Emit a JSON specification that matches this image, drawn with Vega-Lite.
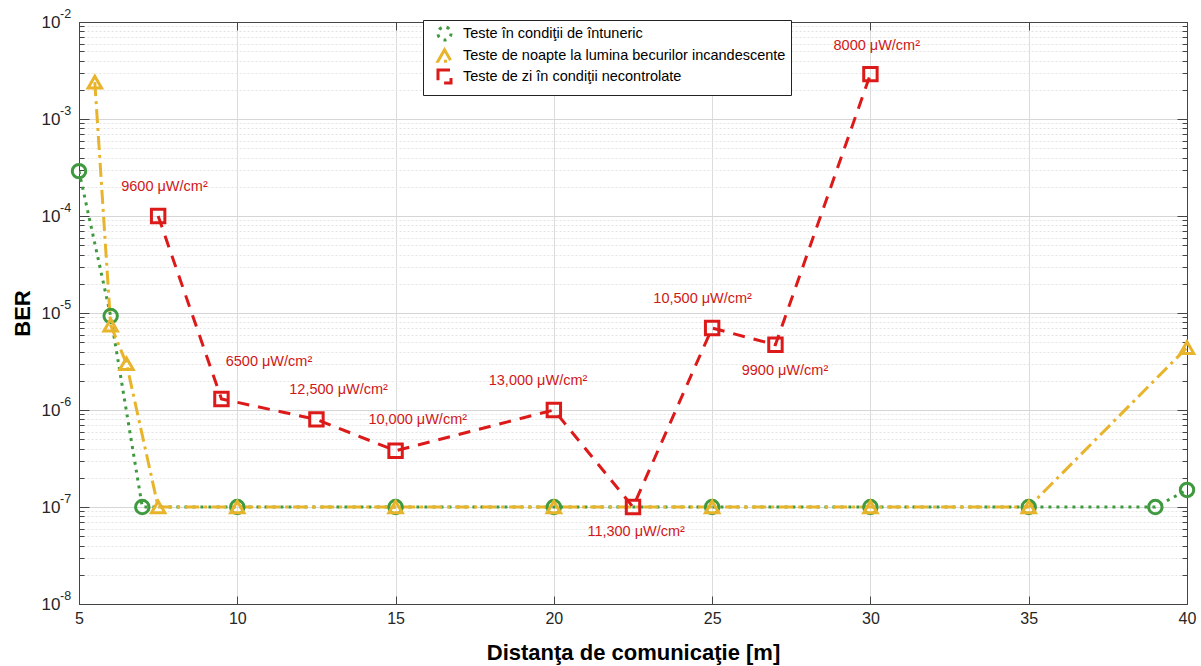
{
  "$schema": "https://vega.github.io/schema/vega-lite/v6.json",
  "width": 1108,
  "height": 582,
  "autosize": {"type": "none"},
  "padding": {"left": 79, "top": 22, "right": 14, "bottom": 62},
  "background": "white",
  "config": {
    "view": {"stroke": "#444444", "strokeWidth": 1},
    "font": "Liberation Sans",
    "legend": {
      "orient": "none", "legendX": 344, "legendY": -2,
      "direction": "vertical",
      "strokeColor": "#222222", "fillColor": "#ffffff", "padding": 5,
      "labelFont": "Liberation Sans", "labelFontSize": 14.5, "labelColor": "#000000",
      "symbolStrokeWidth": 3, "symbolSize": 170, "rowPadding": -6, "labelLimit": 400,
      "symbolOffset": 8, "labelOffset": 10
    }
  },
  "resolve": {"axis": {"x": "independent", "y": "independent"}},
  "datasets": {
    "series": [
      {"s": "Teste în condiţii de întuneric", "x": 5, "ber": 2.9e-4},
      {"s": "Teste în condiţii de întuneric", "x": 6, "ber": 9.3e-6},
      {"s": "Teste în condiţii de întuneric", "x": 7, "ber": 1e-7},
      {"s": "Teste în condiţii de întuneric", "x": 10, "ber": 1e-7},
      {"s": "Teste în condiţii de întuneric", "x": 15, "ber": 1e-7},
      {"s": "Teste în condiţii de întuneric", "x": 20, "ber": 1e-7},
      {"s": "Teste în condiţii de întuneric", "x": 25, "ber": 1e-7},
      {"s": "Teste în condiţii de întuneric", "x": 30, "ber": 1e-7},
      {"s": "Teste în condiţii de întuneric", "x": 35, "ber": 1e-7},
      {"s": "Teste în condiţii de întuneric", "x": 39, "ber": 1e-7},
      {"s": "Teste în condiţii de întuneric", "x": 40, "ber": 1.5e-7},
      {"s": "Teste de noapte la lumina becurilor incandescente", "x": 5.5, "ber": 2.4e-3},
      {"s": "Teste de noapte la lumina becurilor incandescente", "x": 6, "ber": 7.5e-6},
      {"s": "Teste de noapte la lumina becurilor incandescente", "x": 6.5, "ber": 3e-6},
      {"s": "Teste de noapte la lumina becurilor incandescente", "x": 7.5, "ber": 1e-7},
      {"s": "Teste de noapte la lumina becurilor incandescente", "x": 10, "ber": 1e-7},
      {"s": "Teste de noapte la lumina becurilor incandescente", "x": 15, "ber": 1e-7},
      {"s": "Teste de noapte la lumina becurilor incandescente", "x": 20, "ber": 1e-7},
      {"s": "Teste de noapte la lumina becurilor incandescente", "x": 25, "ber": 1e-7},
      {"s": "Teste de noapte la lumina becurilor incandescente", "x": 30, "ber": 1e-7},
      {"s": "Teste de noapte la lumina becurilor incandescente", "x": 35, "ber": 1e-7},
      {"s": "Teste de noapte la lumina becurilor incandescente", "x": 40, "ber": 4.4e-6},
      {"s": "Teste de zi în condiţii necontrolate", "x": 7.5, "ber": 1e-4},
      {"s": "Teste de zi în condiţii necontrolate", "x": 9.5, "ber": 1.3e-6},
      {"s": "Teste de zi în condiţii necontrolate", "x": 12.5, "ber": 8e-7},
      {"s": "Teste de zi în condiţii necontrolate", "x": 15, "ber": 3.8e-7},
      {"s": "Teste de zi în condiţii necontrolate", "x": 20, "ber": 1e-6},
      {"s": "Teste de zi în condiţii necontrolate", "x": 22.5, "ber": 1e-7},
      {"s": "Teste de zi în condiţii necontrolate", "x": 25, "ber": 7e-6},
      {"s": "Teste de zi în condiţii necontrolate", "x": 27, "ber": 4.7e-6},
      {"s": "Teste de zi în condiţii necontrolate", "x": 30, "ber": 2.9e-3}
    ],
    "labels": [
      {"x": 7.7, "ber": 2.0e-4, "t": "9600 μW/cm²"},
      {"x": 11.0, "ber": 3.1e-6, "t": "6500 μW/cm²"},
      {"x": 13.2, "ber": 1.6e-6, "t": "12,500 μW/cm²"},
      {"x": 15.7, "ber": 7.8e-7, "t": "10,000 μW/cm²"},
      {"x": 19.5, "ber": 2.0e-6, "t": "13,000 μW/cm²"},
      {"x": 22.6, "ber": 5.5e-8, "t": "11,300 μW/cm²"},
      {"x": 24.7, "ber": 1.4e-5, "t": "10,500 μW/cm²"},
      {"x": 27.3, "ber": 2.5e-6, "t": "9900 μW/cm²"},
      {"x": 30.2, "ber": 5.7e-3, "t": "8000 μW/cm²"}
    ],
    "exponents": [
      {"x": 5, "ber": 1e-2, "e": "-2"},
      {"x": 5, "ber": 1e-3, "e": "-3"},
      {"x": 5, "ber": 1e-4, "e": "-4"},
      {"x": 5, "ber": 1e-5, "e": "-5"},
      {"x": 5, "ber": 1e-6, "e": "-6"},
      {"x": 5, "ber": 1e-7, "e": "-7"},
      {"x": 5, "ber": 1e-8, "e": "-8"}
    ]
  },
  "layer": [
    {
      "data": {"name": "series"},
      "mark": {"type": "line", "strokeWidth": 3, "clip": true},
      "encoding": {
        "x": {
          "field": "x", "type": "quantitative",
          "scale": {"domain": [5, 40], "nice": false, "zero": false},
          "axis": {
            "title": "Distanţa de comunicaţie [m]",
            "titleFont": "Liberation Sans", "titleFontSize": 22, "titleFontWeight": "bold", "titleColor": "#000000",
            "titleY": 48, "titleBaseline": "middle",
            "values": [5, 10, 15, 20, 25, 30, 35, 40],
            "labelFont": "Liberation Sans", "labelFontSize": 16, "labelColor": "#262626", "labelPadding": 14,
            "labelFlush": false, "labelOverlap": false,
            "tickSize": -8, "tickColor": "#444444", "domainColor": "#444444",
            "grid": true, "gridColor": "#dcdcdc", "gridWidth": 1
          }
        },
        "y": {
          "field": "ber", "type": "quantitative",
          "scale": {"type": "log", "domain": [1e-8, 1e-2], "nice": false},
          "axis": {
            "title": "BER",
            "titleFont": "Liberation Sans", "titleFontSize": 22, "titleFontWeight": "bold", "titleColor": "#000000",
            "titleX": -57, "titleY": 291, "titleAngle": -90, "titleBaseline": "middle", "titleAlign": "center",
            "values": [1e-8, 2e-8, 3e-8, 4e-8, 5e-8, 6e-8, 7e-8, 8e-8, 9e-8,
                       1e-7, 2e-7, 3e-7, 4e-7, 5e-7, 6e-7, 7e-7, 8e-7, 9e-7,
                       1e-6, 2e-6, 3e-6, 4e-6, 5e-6, 6e-6, 7e-6, 8e-6, 9e-6,
                       1e-5, 2e-5, 3e-5, 4e-5, 5e-5, 6e-5, 7e-5, 8e-5, 9e-5,
                       1e-4, 2e-4, 3e-4, 4e-4, 5e-4, 6e-4, 7e-4, 8e-4, 9e-4,
                       1e-3, 2e-3, 3e-3, 4e-3, 5e-3, 6e-3, 7e-3, 8e-3, 9e-3, 1e-2],
            "labelExpr": "abs(log(datum.value)/LN10 - round(log(datum.value)/LN10)) < 0.001 ? '10' : ''",
            "labelFont": "Liberation Sans", "labelFontSize": 17, "labelColor": "#262626", "labelPadding": 29,
            "labelOverlap": false, "labelBound": false, "labelFlush": false,
            "tickSize": {"condition": {"test": "abs(log(datum.value)/LN10 - round(log(datum.value)/LN10)) < 0.001", "value": -10}, "value": -5},
            "tickColor": "#444444", "domainColor": "#444444",
            "grid": true,
            "gridColor": {"condition": {"test": "abs(log(datum.value)/LN10 - round(log(datum.value)/LN10)) < 0.001", "value": "#d6d6d6"}, "value": "#e4e4e4"},
            "gridDash": {"condition": {"test": "abs(log(datum.value)/LN10 - round(log(datum.value)/LN10)) < 0.001", "value": []}, "value": [2, 2]}
          }
        },
        "color": {
          "field": "s", "type": "nominal",
          "scale": {
            "domain": ["Teste în condiţii de întuneric", "Teste de noapte la lumina becurilor incandescente", "Teste de zi în condiţii necontrolate"],
            "range": ["#3f9a3f", "#e8b42c", "#dc1a1a"]
          },
          "legend": {"title": null}
        },
        "strokeDash": {
          "field": "s", "type": "nominal",
          "scale": {
            "domain": ["Teste în condiţii de întuneric", "Teste de noapte la lumina becurilor incandescente", "Teste de zi în condiţii necontrolate"],
            "range": [[3, 5], [14, 5, 3, 5], [12, 9]]
          },
          "legend": null
        },
        "order": {"field": "x", "type": "quantitative"}
      }
    },
    {
      "data": {"name": "series"},
      "mark": {"type": "point", "filled": false, "strokeWidth": 3, "opacity": 1, "size": 180},
      "encoding": {
        "x": {"field": "x", "type": "quantitative", "axis": null},
        "y": {"field": "ber", "type": "quantitative", "axis": null},
        "color": {"field": "s", "type": "nominal", "legend": {"title": null}},
        "shape": {
          "field": "s", "type": "nominal",
          "scale": {
            "domain": ["Teste în condiţii de întuneric", "Teste de noapte la lumina becurilor incandescente", "Teste de zi în condiţii necontrolate"],
            "range": ["circle", "triangle-up", "square"]
          },
          "legend": null
        }
      }
    },
    {
      "data": {"name": "labels"},
      "mark": {"type": "text", "font": "Liberation Sans", "fontSize": 14.5, "color": "#d01818", "align": "center", "baseline": "middle"},
      "encoding": {
        "x": {"field": "x", "type": "quantitative", "axis": null},
        "y": {"field": "ber", "type": "quantitative", "axis": null},
        "text": {"field": "t", "type": "nominal"}
      }
    },
    {
      "data": {"name": "exponents"},
      "mark": {"type": "text", "font": "Liberation Sans", "fontSize": 12.5, "color": "#262626", "align": "left", "baseline": "middle", "dx": -19, "dy": -8, "clip": false},
      "encoding": {
        "x": {"field": "x", "type": "quantitative", "axis": null},
        "y": {"field": "ber", "type": "quantitative", "axis": null},
        "text": {"field": "e", "type": "nominal"}
      }
    },
    {
      "data": {"values": [{"x": 5, "ber": 1e-8}]},
      "mark": {"type": "point", "opacity": 0},
      "encoding": {
        "x": {
          "field": "x", "type": "quantitative",
          "axis": {"orient": "top", "title": null, "labels": false, "values": [5, 10, 15, 20, 25, 30, 35, 40], "tickSize": -8, "tickColor": "#444444", "domainColor": "#444444", "grid": false}
        },
        "y": {
          "field": "ber", "type": "quantitative",
          "axis": {
            "orient": "right", "title": null, "labels": false, "grid": false,
            "values": [1e-8, 2e-8, 3e-8, 4e-8, 5e-8, 6e-8, 7e-8, 8e-8, 9e-8,
                       1e-7, 2e-7, 3e-7, 4e-7, 5e-7, 6e-7, 7e-7, 8e-7, 9e-7,
                       1e-6, 2e-6, 3e-6, 4e-6, 5e-6, 6e-6, 7e-6, 8e-6, 9e-6,
                       1e-5, 2e-5, 3e-5, 4e-5, 5e-5, 6e-5, 7e-5, 8e-5, 9e-5,
                       1e-4, 2e-4, 3e-4, 4e-4, 5e-4, 6e-4, 7e-4, 8e-4, 9e-4,
                       1e-3, 2e-3, 3e-3, 4e-3, 5e-3, 6e-3, 7e-3, 8e-3, 9e-3, 1e-2],
            "tickSize": {"condition": {"test": "abs(log(datum.value)/LN10 - round(log(datum.value)/LN10)) < 0.001", "value": -10}, "value": -5},
            "tickColor": "#444444", "domainColor": "#444444"
          }
        }
      }
    }
  ]
}
